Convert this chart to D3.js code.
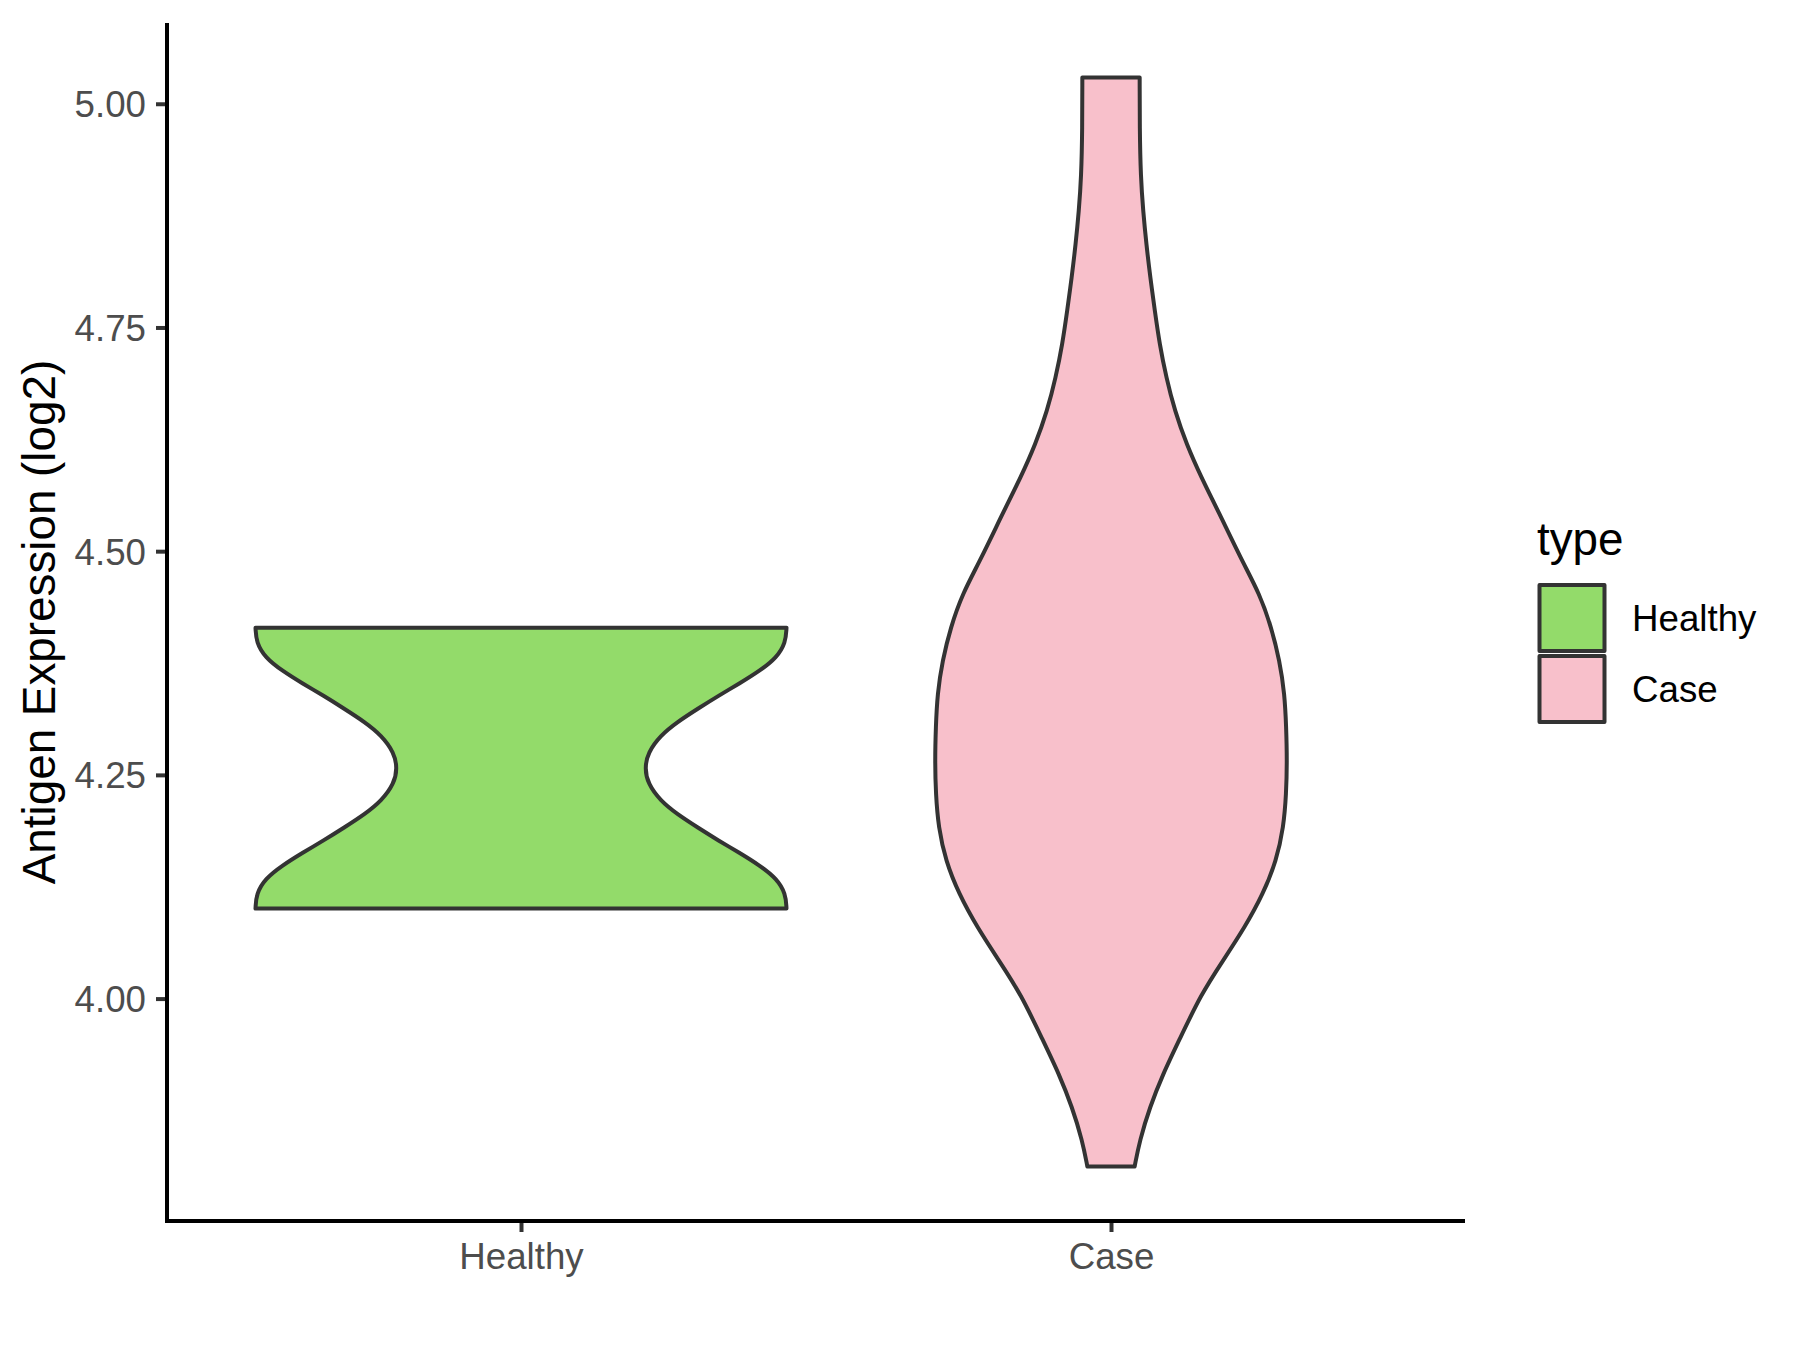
<!DOCTYPE html>
<html>
<head>
<meta charset="utf-8">
<script src="https://cdn.jsdelivr.net/npm/d3@7"></script>
<style>
  html, body { margin: 0; padding: 0; background: #ffffff; }
  svg { display: block; }
  text { font-family: "Liberation Sans", Arial, Helvetica, sans-serif; }
</style>
</head>
<body>
<svg id="chart" width="1800" height="1350"></svg>
<script>
// ---- data ----
const categories = ["Healthy", "Case"];
const fillColors = ["#93DB6A", "#F8C0CB"];
const yTicks = [4.00, 4.25, 4.50, 4.75, 5.00];

// violin outlines: expression value and relative half-width (1 = full violin width)
const healthyValues = [4.1006, 4.1171, 4.1341, 4.1486, 4.1631, 4.1766, 4.1911, 4.2061, 4.2211, 4.2401, 4.2575,
                       4.2750, 4.2940, 4.3090, 4.3240, 4.3385, 4.3520, 4.3665, 4.3810, 4.3980, 4.4145];
const healthyWidths = [1.000, 0.997, 0.963, 0.900, 0.822, 0.744, 0.666, 0.588, 0.525, 0.478, 0.466,
                       0.478, 0.525, 0.588, 0.666, 0.744, 0.822, 0.900, 0.963, 0.997, 1.000];

const caseValues = [3.8123, 3.8413, 3.8785, 3.9159, 3.9531, 4.0053, 4.0425, 4.0797, 4.1170, 4.1542, 4.1914,
                    4.2287, 4.2659, 4.3031, 4.3405, 4.3777, 4.4149, 4.4522, 4.4894, 4.5453, 4.5825, 4.6198,
                    4.6570, 4.6942, 4.7315, 4.7687, 4.8059, 4.8432, 4.8804, 4.9177, 4.9735, 5.0294];
const caseWidths  = [0.089, 0.108, 0.146, 0.196, 0.256, 0.340, 0.422, 0.504, 0.573, 0.623, 0.650,
                     0.660, 0.663, 0.660, 0.654, 0.635, 0.604, 0.560, 0.493, 0.403, 0.340, 0.284,
                     0.240, 0.208, 0.183, 0.165, 0.148, 0.133, 0.121, 0.112, 0.108, 0.108];

const series = [
  { name: categories[0], values: healthyValues, widths: healthyWidths, fill: fillColors[0] },
  { name: categories[1], values: caseValues, widths: caseWidths, fill: fillColors[1] }
];

// ---- layout ----
const panel = { left: 167, right: 1465, top: 23, bottom: 1221 };
const svg = d3.select("#chart");

const allValues = healthyValues.concat(caseValues);
const dataMin = d3.min(allValues), dataMax = d3.max(allValues);
const span = dataMax - dataMin;
const y = d3.scaleLinear()
  .domain([dataMin - 0.05 * span, dataMax + 0.05 * span])
  .range([panel.bottom, panel.top]);

// ggplot discrete axis: positions 1,2 with 0.6 expansion
const xl = d3.scaleLinear().domain([0.4, 2.6]).range([panel.left, panel.right]);
const unit = xl(2) - xl(1);
const halfMax = 0.45 * unit;

// ---- violins ----
series.forEach((s, i) => {
  const cx = xl(i + 1);
  const pts = s.values.map((v, k) => ({ v: v, w: s.widths[k] }));
  const area = d3.area()
    .y(d => y(d.v))
    .x0(d => cx - d.w * halfMax)
    .x1(d => cx + d.w * halfMax)
    .curve(d3.curveBasis);
  svg.append("path")
    .datum(pts)
    .attr("d", area)
    .attr("fill", s.fill)
    .attr("stroke", "#333333")
    .attr("stroke-width", 4)
    .attr("stroke-linejoin", "round");
});

// ---- axes ----
const yAxis = d3.axisLeft(y)
  .tickValues(yTicks)
  .tickFormat(d3.format(".2f"))
  .tickSize(11)
  .tickPadding(10);
const gy = svg.append("g")
  .attr("transform", `translate(${panel.left},0)`)
  .call(yAxis);
gy.select(".domain").remove();
gy.selectAll(".tick line").attr("stroke", "#333333").attr("stroke-width", 4);
gy.selectAll(".tick text")
  .attr("fill", "#4D4D4D")
  .style("font-size", "36.7px")
  .attr("dy", "0.35em");

const xAxis = d3.axisBottom(xl)
  .tickValues([1, 2])
  .tickFormat(d => categories[d - 1])
  .tickSize(11)
  .tickPadding(9);
const gx = svg.append("g")
  .attr("transform", `translate(0,${panel.bottom})`)
  .call(xAxis);
gx.select(".domain").remove();
gx.selectAll(".tick line").attr("stroke", "#333333").attr("stroke-width", 4);
gx.selectAll(".tick text")
  .attr("fill", "#4D4D4D")
  .style("font-size", "36.7px")
  .attr("dy", "0.75em");

// axis lines
svg.append("line")
  .attr("x1", panel.left).attr("x2", panel.left)
  .attr("y1", panel.top).attr("y2", panel.bottom + 2)
  .attr("stroke", "#000000").attr("stroke-width", 4);
svg.append("line")
  .attr("x1", panel.left - 2).attr("x2", panel.right)
  .attr("y1", panel.bottom).attr("y2", panel.bottom)
  .attr("stroke", "#000000").attr("stroke-width", 4);

// y axis title
svg.append("text")
  .attr("transform", `translate(55,${(panel.top + panel.bottom) / 2}) rotate(-90)`)
  .attr("text-anchor", "middle")
  .attr("fill", "#000000")
  .style("font-size", "45.8px")
  .text("Antigen Expression (log2)");

// ---- legend ----
const legend = svg.append("g");
legend.append("text")
  .attr("x", 1537).attr("y", 555)
  .attr("fill", "#000000")
  .style("font-size", "45.8px")
  .text("type");
series.forEach((s, i) => {
  const top = 585 + i * 71;
  legend.append("rect")
    .attr("x", 1539.5).attr("y", top)
    .attr("width", 65).attr("height", 66)
    .attr("fill", s.fill)
    .attr("stroke", "#333333")
    .attr("stroke-width", 4)
    .attr("stroke-linejoin", "round");
  legend.append("text")
    .attr("x", 1632).attr("y", top + 33)
    .attr("dy", "0.35em")
    .attr("fill", "#000000")
    .style("font-size", "36.7px")
    .text(s.name);
});
</script>
</body>
</html>
